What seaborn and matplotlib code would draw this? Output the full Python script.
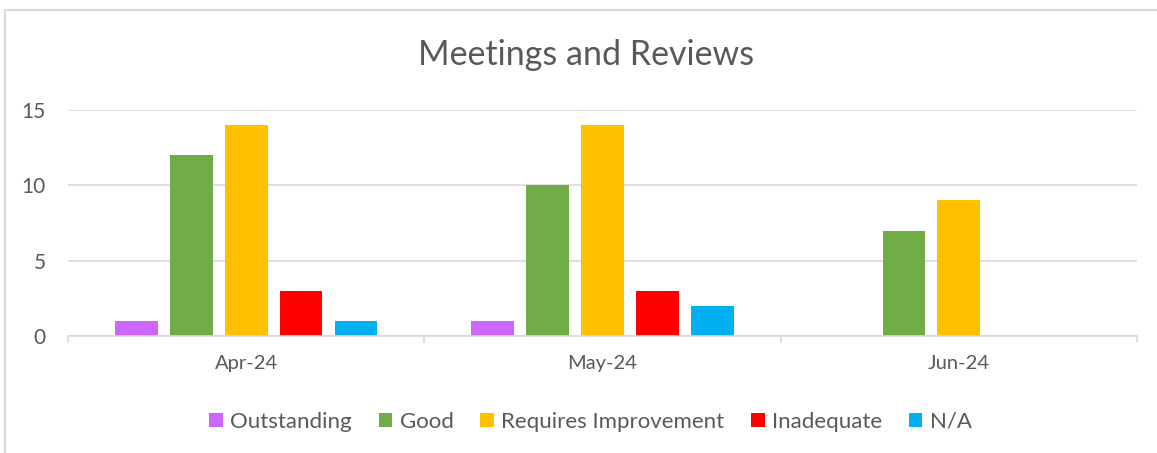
import matplotlib
matplotlib.use("Agg")
import matplotlib.pyplot as plt
import seaborn as sns
import pandas as pd
from matplotlib.patches import Rectangle

months = ["Apr-24", "May-24", "Jun-24"]
series = ["Outstanding", "Good", "Requires Improvement", "Inadequate", "N/A"]
outstanding = [1, 1, 0]
good = [12, 10, 7]
requires_improvement = [14, 14, 9]
inadequate = [3, 3, 0]
na = [1, 2, 0]
colors = ["#CC66FF", "#70AD47", "#FFC000", "#FF0000", "#00B0F0"]
yticks = [0, 5, 10, 15]

vals = [outstanding, good, requires_improvement, inadequate, na]
rows = []
for s, v in zip(series, vals):
    for m, x in zip(months, v):
        rows.append({"Month": m, "Series": s, "Value": x})
df = pd.DataFrame(rows)

sns.set_theme(style="white")
plt.rcParams["font.family"] = ["Lato", "DejaVu Sans"]
txt = "#595959"

fig = plt.figure(figsize=(11.57, 4.53), dpi=100)
ax = fig.add_axes([68 / 1157, 1 - 336 / 453, (1137 - 68) / 1157, (336 - 110) / 453])

sns.barplot(data=df, x="Month", y="Value", hue="Series", hue_order=series,
            order=months, palette=colors, width=0.77, gap=0.22, ax=ax,
            legend=True, saturation=1, edgecolor="none")

ax.set_xlim(-0.5, 2.5)
ax.set_ylim(0, 15)
ax.set_yticks(yticks)
ax.set_yticklabels([str(t) for t in yticks], color=txt, fontsize=15)
ax.yaxis.grid(True, color="#D9D9D9", linewidth=1.2)
ax.set_axisbelow(True)
ax.set_xlabel("")
ax.set_ylabel("")
for sp in ["top", "right", "left"]:
    ax.spines[sp].set_visible(False)
ax.spines["bottom"].set_color("#D9D9D9")
ax.spines["bottom"].set_linewidth(1.2)
ax.tick_params(axis="y", length=0, pad=16)
ax.tick_params(axis="x", length=0, pad=14, labelsize=14.5, labelcolor=txt)
# category separator ticks
for xs in [-0.5, 0.5, 1.5, 2.5]:
    ax.plot([xs, xs], [0, -0.4], color="#D9D9D9", lw=1.2, clip_on=False)

fig.text(586.5 / 1157, 1 - 55 / 453, "Meetings and Reviews", fontsize=24.5,
         color=txt, ha="center", va="center")

handles, labels = ax.get_legend_handles_labels()
ax.legend(handles, labels, loc="center", bbox_to_anchor=(0.489, -0.38),
          ncol=5, frameon=False, fontsize=16, labelcolor=txt,
          handlelength=0.6, handleheight=0.6, handletextpad=0.35,
          columnspacing=1.2)

# chart frame
fig.patches.append(Rectangle((5 / 1157, -0.1), 1.2, 1 - 10 / 453 + 0.1,
                             transform=fig.transFigure, fill=False,
                             edgecolor="#D9D9D9", linewidth=1.5))

fig.savefig("out.png", dpi=100, facecolor="white")
